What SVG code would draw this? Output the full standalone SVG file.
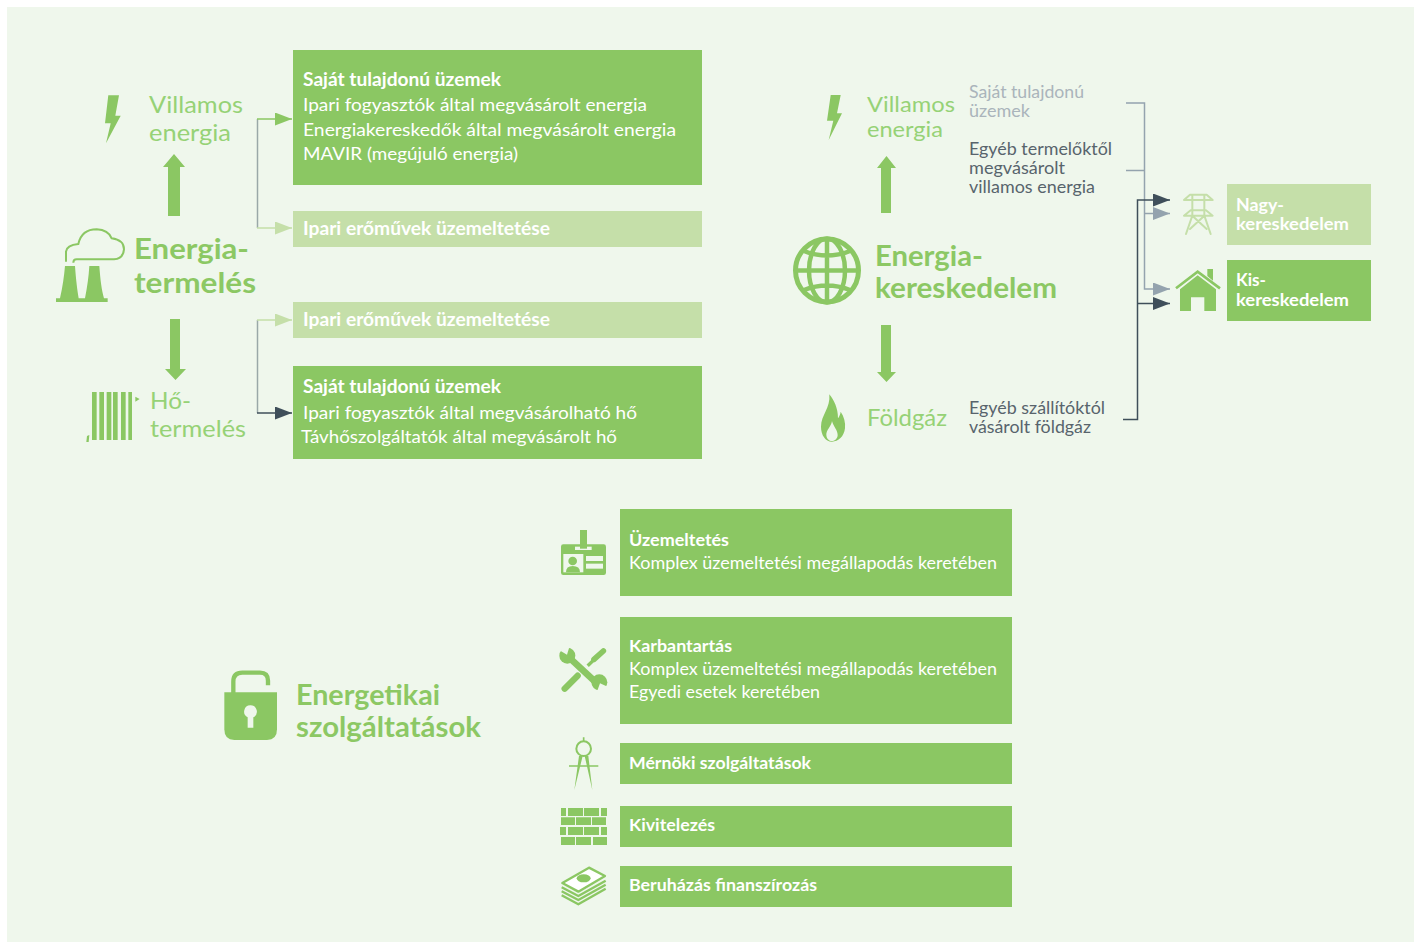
<svg xmlns="http://www.w3.org/2000/svg" width="1419" height="943" viewBox="0 0 1419 943">
<style>
text{font-family:"Lato","Noto Sans",sans-serif}
.w{fill:#fff;font-size:18px}
.wb{fill:#fff;font-size:18px;font-weight:700}
.wn{fill:#fff;font-size:16.500px;font-weight:700}
.wm{fill:#fff;font-size:17px}
.h{fill:#8cc864;font-size:29px;font-weight:700}
.s{fill:#96d276;font-size:23px}
.s2{fill:#96d276;font-size:21.500px}
.g{fill:#58646c;font-size:17px}
.lg{fill:#aab4bb;font-size:17px}
.box{fill:#8bc763}
.lbox{fill:#c5dfa9}
.f{fill:#8bc763}
.bg{fill:#eff7ec}
.c{fill:none;stroke-width:1.5}
</style>
<defs>
<marker id="aG" markerUnits="userSpaceOnUse" markerWidth="17" markerHeight="13" refX="17" refY="6.500" orient="auto"><path d="M0 0L17 6.500L0 13z" fill="#8bc763"/></marker>
<marker id="aL" markerUnits="userSpaceOnUse" markerWidth="17" markerHeight="13" refX="17" refY="6.500" orient="auto"><path d="M0 0L17 6.500L0 13z" fill="#c5dfa9"/></marker>
<marker id="aD" markerUnits="userSpaceOnUse" markerWidth="17" markerHeight="13" refX="17" refY="6.500" orient="auto"><path d="M0 0L17 6.500L0 13z" fill="#3f4f5a"/></marker>
<marker id="aM" markerUnits="userSpaceOnUse" markerWidth="17" markerHeight="13" refX="17" refY="6.500" orient="auto"><path d="M0 0L17 6.500L0 13z" fill="#94a3ae"/></marker>
</defs>
<rect x="7" y="7" width="1407" height="935" class="bg"/>

<g id="connectors">
<path class="c" stroke="#9aa8a8" d="M257.500 119V228"/>
<path class="c" stroke="#8bc763" d="M257 119H292" marker-end="url(#aG)"/>
<path class="c" stroke="#c5dfa9" d="M257 228H292" marker-end="url(#aL)"/>
<path class="c" stroke="#9aa8a8" d="M257.500 320V413"/>
<path class="c" stroke="#c5dfa9" d="M257 320H292" marker-end="url(#aL)"/>
<path class="c" stroke="#3f4f5a" d="M257 413H292" marker-end="url(#aD)"/>
<path class="c" stroke="#94a3ae" d="M1126 103H1144.500V289H1170" marker-end="url(#aM)"/>
<path class="c" stroke="#94a3ae" d="M1126 170.500H1144.500"/>
<path class="c" stroke="#94a3ae" d="M1144.500 213.500H1170" marker-end="url(#aM)"/>
<path class="c" stroke="#3f4f5a" d="M1123 419.500H1137.500V200H1170" marker-end="url(#aD)"/>
<path class="c" stroke="#3f4f5a" d="M1137.500 303.500H1170" marker-end="url(#aD)"/>
<path class="f" d="M168 216V167H163L174 154L185 167H180V216z"/>
<path class="f" d="M170 319H180V369H186L175.500 380L165 369H170z"/>
<path class="f" d="M881 213V168H877L886.500 156L896 168H891V213z"/>
<path class="f" d="M881 325H891V372H896L886.500 382L877 372H881z"/>
</g>

<g id="villamos-energia-1">
<path class="f" d="M108.300 95.300H119L115.300 115.700H120.700L106 143.300L110.700 123.300H105z"/>
<text class="s" x="149" y="113" textLength="94" lengthAdjust="spacingAndGlyphs">Villamos</text>
<text class="s" x="149" y="141" textLength="82" lengthAdjust="spacingAndGlyphs">energia</text>
</g>
<g id="energiatermeles">
<g transform="translate(40 70) scale(.3333)">
<path class="f" d="M48 685H203V696H48zM75 588H105C108 630 112 660 116 685H60C68 650 72 620 75 588zM148 588H178C181 630 185 660 192 685H135C142 650 146 620 148 588z"/>
<path fill="none" stroke="#8bc763" stroke-width="6" d="M78 575V545Q80 525 115 522Q125 478 170 478Q205 480 215 505Q252 510 252 538Q250 566 222 568H110Q100 568 100 578"/>
</g>
<text class="h" x="134" y="259" textLength="115" lengthAdjust="spacingAndGlyphs">Energia-</text>
<text class="h" x="134" y="293" textLength="122" lengthAdjust="spacingAndGlyphs">termelés</text>
</g>
<g id="hotermeles">
<g transform="translate(40 300) scale(.3333)">
<path class="f" d="M156 276H170V420H156zM178 276H192V420H178zM200 276H214V420H200zM219 276H233V420H219zM243 276H257V420H243zM265 276H276V420H265zM286 290L299 297L286 305zM141 408L148 405L146 426H139z"/>
</g>
<text class="s" x="150" y="409" textLength="41" lengthAdjust="spacingAndGlyphs">Hő-</text>
<text class="s" x="150" y="437" textLength="96" lengthAdjust="spacingAndGlyphs">termelés</text>
</g>

<g id="box-sajat-1">
<rect class="box" x="293" y="50" width="409" height="135"/>
<text class="wb" x="303" y="86" textLength="198" lengthAdjust="spacingAndGlyphs">Saját tulajdonú üzemek</text>
<text class="w" x="303" y="111" textLength="344" lengthAdjust="spacingAndGlyphs">Ipari fogyasztók által megvásárolt energia</text>
<text class="w" x="303" y="135.500" textLength="373" lengthAdjust="spacingAndGlyphs">Energiakereskedők által megvásárolt energia</text>
<text class="w" x="303" y="160" textLength="215" lengthAdjust="spacingAndGlyphs">MAVIR (megújuló energia)</text>
</g>
<g id="box-ipari-1">
<rect class="lbox" x="293" y="211" width="409" height="36"/>
<text class="wb" x="303" y="234.500" textLength="247" lengthAdjust="spacingAndGlyphs">Ipari erőművek üzemeltetése</text>
</g>
<g id="box-ipari-2">
<rect class="lbox" x="293" y="302" width="409" height="36"/>
<text class="wb" x="303" y="325.500" textLength="247" lengthAdjust="spacingAndGlyphs">Ipari erőművek üzemeltetése</text>
</g>
<g id="box-sajat-2">
<rect class="box" x="293" y="366" width="409" height="93"/>
<text class="wb" x="303" y="393" textLength="198" lengthAdjust="spacingAndGlyphs">Saját tulajdonú üzemek</text>
<text class="w" x="303" y="418.500" textLength="334" lengthAdjust="spacingAndGlyphs">Ipari fogyasztók által megvásárolható hő</text>
<text class="w" x="301" y="443" textLength="316" lengthAdjust="spacingAndGlyphs">Távhőszolgáltatók által megvásárolt hő</text>
</g>

<g id="villamos-energia-2">
<path class="f" d="M830.700 95H840.700L837 113.300H842L828.700 140L833.300 120.700H827z"/>
<text class="s2" x="867" y="112" textLength="88" lengthAdjust="spacingAndGlyphs">Villamos</text>
<text class="s2" x="867" y="137" textLength="76" lengthAdjust="spacingAndGlyphs">energia</text>
</g>
<g id="energiakereskedelem">
<g fill="none" stroke="#8bc763" stroke-width="4.500">
<circle cx="827" cy="270.500" r="31.500" stroke-width="5"/>
<ellipse cx="827" cy="270.500" rx="18" ry="32"/>
<path d="M827 239V303M795 270.500H859M804 251Q827 260 850 251M804 290Q827 281 850 290"/>
</g>
<text class="h" x="875" y="266" textLength="108" lengthAdjust="spacingAndGlyphs">Energia-</text>
<text class="h" x="875" y="298" textLength="182" lengthAdjust="spacingAndGlyphs">kereskedelem</text>
</g>
<g id="foldgaz">
<g transform="translate(810 385) scale(.3333)">
<path class="f" d="M58 28C72 45 84 70 84 100C88 94 91 88 92 80C102 95 107 112 105 130C102 155 85 170 66 170C46 170 33 150 33 125C33 90 62 70 58 28z"/>
<path class="bg" d="M66 108C64 125 48 135 49 150C50 162 58 168 66 168C75 168 83 160 83 150C83 135 70 125 66 108z"/>
</g>
<text class="s" x="867" y="426" textLength="80" lengthAdjust="spacingAndGlyphs">Földgáz</text>
</g>
<g id="forras-sajat">
<text class="lg" x="969" y="97.500" textLength="115" lengthAdjust="spacingAndGlyphs">Saját tulajdonú</text>
<text class="lg" x="969" y="116.500" textLength="61" lengthAdjust="spacingAndGlyphs">üzemek</text>
</g>
<g id="forras-egyeb">
<text class="g" x="969" y="154.500" textLength="143" lengthAdjust="spacingAndGlyphs">Egyéb termelőktől</text>
<text class="g" x="969" y="173.500" textLength="96" lengthAdjust="spacingAndGlyphs">megvásárolt</text>
<text class="g" x="969" y="192.500" textLength="126" lengthAdjust="spacingAndGlyphs">villamos energia</text>
</g>
<g id="forras-gaz">
<text class="g" x="969" y="414" textLength="136" lengthAdjust="spacingAndGlyphs">Egyéb szállítóktól</text>
<text class="g" x="969" y="433" textLength="122" lengthAdjust="spacingAndGlyphs">vásárolt földgáz</text>
</g>
<g id="nagykereskedelem">
<g transform="translate(1170 185) scale(.3333)" fill="none" stroke="#c5dfa9" stroke-width="6" stroke-linejoin="round" stroke-linecap="round">
<path d="M42 45L60 29H110L128 45ZM42 92L62 76H108L128 92ZM67 29V92M103 29V92M67 92L48 147M103 92L122 147M67 92L110 132M103 92L60 132"/>
</g>
<rect class="lbox" x="1227" y="184" width="144" height="61"/>
<text class="wn" x="1236" y="210.500" textLength="48" lengthAdjust="spacingAndGlyphs">Nagy-</text>
<text class="wn" x="1236" y="229.500" textLength="113" lengthAdjust="spacingAndGlyphs">kereskedelem</text>
</g>
<g id="kiskereskedelem">
<g transform="translate(1090 90) scale(.3333)">
<path class="f" d="M352 537H369V572L352 558zM270 598L323 556L378 598V663H343V622H303V663H270z"/>
<path fill="none" stroke="#8bc763" stroke-width="8" d="M258 595L323 545L390 595"/>
</g>
<rect class="box" x="1227" y="260" width="144" height="61"/>
<text class="wn" x="1236" y="285.500" textLength="30" lengthAdjust="spacingAndGlyphs">Kis-</text>
<text class="wn" x="1236" y="305.500" textLength="113" lengthAdjust="spacingAndGlyphs">kereskedelem</text>
</g>

<g id="energetikai-szolgaltatasok">
<g transform="translate(210 660) scale(.3333)">
<path fill="none" stroke="#8bc763" stroke-width="13" d="M70 100V65Q70 38 97 38H150Q174 38 174 62V76"/>
<path class="f" d="M43 97H201V208Q201 240 171 240H73Q43 240 43 208z"/>
<path class="bg" d="M121 136A19 19 0 0 1 130 172V203H113V172A19 19 0 0 1 121 136z"/>
</g>
<text class="h" x="296" y="705" textLength="144" lengthAdjust="spacingAndGlyphs">Energetikai</text>
<text class="h" x="296" y="737" textLength="185" lengthAdjust="spacingAndGlyphs">szolgáltatások</text>
</g>

<g id="uzemeltetes">
<g transform="translate(540 510) scale(.3333)">
<rect class="f" x="63" y="103" width="135" height="92" rx="7"/>
<rect class="bg" x="105" y="110" width="50" height="10"/>
<rect class="f" x="120" y="60" width="21" height="56"/>
<rect class="bg" x="70" y="132" width="60" height="55"/>
<circle class="f" cx="98" cy="153" r="13"/>
<path class="f" d="M78 187Q78 168 98 168Q120 168 120 187z"/>
<rect class="bg" x="138" y="138" width="51" height="15"/>
<rect class="bg" x="138" y="161" width="51" height="15"/>
</g>
<rect class="box" x="620" y="509" width="392" height="87"/>
<text class="wm" style="font-weight:700" x="629" y="546" textLength="100" lengthAdjust="spacingAndGlyphs">Üzemeltetés</text>
<text class="wm" x="629" y="569" textLength="368" lengthAdjust="spacingAndGlyphs">Komplex üzemeltetési megállapodás keretében</text>
</g>
<g id="karbantartas">
<g transform="translate(555 640) scale(.3333)">
<path fill="none" stroke="#8bc763" stroke-width="20" d="M42 52L128 132"/>
<path fill="none" stroke="#8bc763" stroke-width="19" stroke-linecap="round" d="M29 146L68 107"/>
<path fill="none" stroke="#8bc763" stroke-width="10" d="M98 77L125 52"/>
<path fill="none" stroke="#8bc763" stroke-width="17" stroke-linecap="round" d="M117 58L145 33"/>
<circle class="f" cx="37" cy="47" r="24"/>
<circle class="f" cx="133" cy="127" r="24"/>
<path class="bg" d="M36 44L17 33L28 12L44 18z"/>
<path class="bg" d="M135 130L158 140L146 164L127 152z"/>
</g>
<rect class="box" x="620" y="617" width="392" height="107"/>
<text class="wm" style="font-weight:700" x="629" y="652" textLength="103" lengthAdjust="spacingAndGlyphs">Karbantartás</text>
<text class="wm" x="629" y="675" textLength="368" lengthAdjust="spacingAndGlyphs">Komplex üzemeltetési megállapodás keretében</text>
<text class="wm" x="629" y="698" textLength="191" lengthAdjust="spacingAndGlyphs">Egyedi esetek keretében</text>
</g>
<g id="mernoki">
<g transform="translate(540 730) scale(.3333)">
<circle cx="131" cy="56" r="22" fill="none" stroke="#8bc763" stroke-width="6"/>
<path fill="none" stroke="#8bc763" stroke-width="5" d="M131 22V34M87 108H175"/>
<path class="f" d="M117 78H128L103 180zM134 78H145L157 180z"/>
</g>
<rect class="box" x="620" y="743" width="392" height="41"/>
<text class="wm" style="font-weight:700" x="629" y="769" textLength="182" lengthAdjust="spacingAndGlyphs">Mérnöki szolgáltatások</text>
</g>
<g id="kivitelezes">
<g transform="translate(540 730) scale(.3333)">
<path class="f" d="M63 234H78V258H63zM84 234H129V258H84zM132 234H177V258H132zM183 234H201V258H183zM63 262H105V285H63zM108 262H153V285H108zM156 262H198V285H156zM60 291H78V315H60zM84 291H129V315H84zM132 291H177V315H132zM183 291H201V315H183zM63 321H105V345H63zM108 321H153V345H108zM159 321H201V345H159z"/>
</g>
<rect class="box" x="620" y="806" width="392" height="41"/>
<text class="wm" style="font-weight:700" x="629" y="831" textLength="86" lengthAdjust="spacingAndGlyphs">Kivitelezés</text>
</g>
<g id="beruhazas">
<g transform="translate(540 730) scale(.3333)">
<path fill="none" stroke="#8bc763" stroke-width="7" stroke-linejoin="round" d="M65 472L115 498L197 452M65 484L115 510L197 464M65 496L115 523L197 476"/>
<path fill="#fff" stroke="#8bc763" stroke-width="7" stroke-linejoin="round" d="M67 459L147 413L195 438L115 485z"/>
<ellipse class="f" cx="131" cy="445" rx="21" ry="12"/>
</g>
<rect class="box" x="620" y="866" width="392" height="41"/>
<text class="wm" style="font-weight:700" x="629" y="891" textLength="188" lengthAdjust="spacingAndGlyphs">Beruházás finanszírozás</text>
</g>
</svg>
